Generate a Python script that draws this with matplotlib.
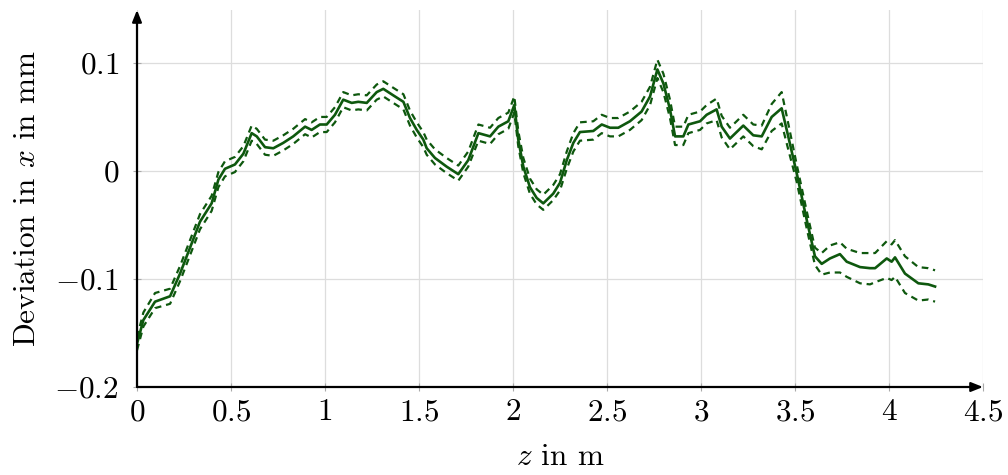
import numpy as np
import matplotlib
matplotlib.use('Agg')
import matplotlib.pyplot as plt

# position along z in m
z_pos = [0.000, 0.034, 0.096, 0.176, 0.229, 0.291, 0.335, 0.397, 0.433, 0.468,
         0.521, 0.566, 0.610, 0.637, 0.681, 0.725, 0.778, 0.831, 0.894, 0.929,
         0.973, 1.009, 1.053, 1.097, 1.142, 1.177, 1.222, 1.275, 1.310, 1.363,
         1.417, 1.452, 1.488, 1.523, 1.541, 1.585, 1.647, 1.709, 1.762, 1.816,
         1.878, 1.922, 1.975, 2.007, 2.028, 2.055, 2.090, 2.126, 2.161, 2.214,
         2.250, 2.286, 2.321, 2.356, 2.427, 2.472, 2.516, 2.560, 2.622, 2.684,
         2.729, 2.768, 2.800, 2.835, 2.862, 2.906, 2.933, 2.995, 3.030, 3.083,
         3.110, 3.154, 3.225, 3.278, 3.323, 3.376, 3.429, 3.464, 3.509, 3.562,
         3.606, 3.642, 3.686, 3.739, 3.775, 3.846, 3.899, 3.926, 3.988, 4.014,
         4.032, 4.085, 4.156, 4.209, 4.245]

# mean deviation in x (mm)
dev_mean = [-0.160, -0.138, -0.121, -0.116, -0.095, -0.067, -0.047, -0.030, -0.008, 0.002,
            0.006, 0.016, 0.035, 0.032, 0.022, 0.021, 0.026, 0.032, 0.041, 0.038,
            0.043, 0.043, 0.052, 0.066, 0.063, 0.064, 0.063, 0.073, 0.076, 0.070,
            0.064, 0.049, 0.038, 0.029, 0.021, 0.012, 0.004, -0.003, 0.010, 0.035,
            0.032, 0.041, 0.046, 0.061, 0.029, 0.004, -0.015, -0.025, -0.030, -0.021,
            -0.011, 0.010, 0.026, 0.036, 0.037, 0.043, 0.040, 0.040, 0.046, 0.055,
            0.069, 0.094, 0.081, 0.057, 0.032, 0.032, 0.043, 0.046, 0.052, 0.057,
            0.041, 0.030, 0.042, 0.033, 0.032, 0.050, 0.058, 0.032, -0.002, -0.045,
            -0.079, -0.086, -0.081, -0.077, -0.084, -0.089, -0.090, -0.090, -0.081, -0.084,
            -0.080, -0.095, -0.104, -0.105, -0.107]

# distance of the upper / lower dashed bound from the mean
off_upper = [0.006, 0.007, 0.008, 0.007, 0.007, 0.007, 0.007, 0.007, 0.007, 0.007,
             0.007, 0.007, 0.007, 0.007, 0.007, 0.007, 0.007, 0.007, 0.007, 0.007,
             0.007, 0.007, 0.007, 0.007, 0.007, 0.007, 0.007, 0.007, 0.007, 0.007,
             0.007, 0.007, 0.007, 0.007, 0.008, 0.008, 0.008, 0.008, 0.008, 0.008,
             0.008, 0.008, 0.008, 0.008, 0.008, 0.008, 0.008, 0.008, 0.008, 0.008,
             0.008, 0.008, 0.009, 0.009, 0.009, 0.009, 0.009, 0.009, 0.009, 0.009,
             0.009, 0.009, 0.009, 0.009, 0.009, 0.009, 0.009, 0.009, 0.009, 0.010,
             0.010, 0.010, 0.010, 0.010, 0.010, 0.012, 0.015, 0.012, 0.008, 0.008,
             0.008, 0.010, 0.012, 0.011, 0.012, 0.013, 0.014, 0.014, 0.016, 0.016,
             0.016, 0.016, 0.015, 0.015, 0.015]
off_lower = [0.006, 0.006, 0.006, 0.007, 0.007, 0.007, 0.007, 0.007, 0.007, 0.007,
             0.007, 0.007, 0.007, 0.007, 0.007, 0.007, 0.007, 0.007, 0.007, 0.007,
             0.007, 0.007, 0.007, 0.007, 0.007, 0.007, 0.007, 0.007, 0.007, 0.007,
             0.007, 0.007, 0.007, 0.007, 0.006, 0.006, 0.006, 0.006, 0.006, 0.007,
             0.007, 0.007, 0.007, 0.007, 0.006, 0.006, 0.006, 0.006, 0.006, 0.006,
             0.007, 0.008, 0.008, 0.008, 0.008, 0.008, 0.008, 0.008, 0.008, 0.008,
             0.008, 0.008, 0.008, 0.008, 0.008, 0.008, 0.008, 0.008, 0.008, 0.010,
             0.010, 0.010, 0.010, 0.010, 0.012, 0.013, 0.014, 0.012, 0.008, 0.008,
             0.008, 0.010, 0.013, 0.017, 0.014, 0.015, 0.015, 0.013, 0.018, 0.017,
             0.018, 0.018, 0.016, 0.014, 0.014]

x_ticks = [0, 0.5, 1, 1.5, 2, 2.5, 3, 3.5, 4, 4.5]
x_ticklabels = ['0', '0.5', '1', '1.5', '2', '2.5', '3', '3.5', '4', '4.5']
y_ticks = [-0.2, -0.1, 0, 0.1]
y_ticklabels = ['-0.2', '-0.1', '0', '0.1']


def main():
    plt.rcParams['font.family'] = 'serif'
    plt.rcParams['font.serif'] = ['cmr10']
    plt.rcParams['mathtext.fontset'] = 'cm'
    plt.rcParams['axes.formatter.use_mathtext'] = True

    z = np.array(z_pos)
    mean = np.array(dev_mean)
    upper = mean + np.array(off_upper)
    lower = mean - np.array(off_lower)

    fig = plt.figure(figsize=(10.08, 4.75), dpi=100)
    ax = fig.add_axes([137 / 1008, 1 - 387 / 475, (983 - 137) / 1008, (387 - 10) / 475])

    green = '#0e580e'
    ax.plot(z, mean, color=green, lw=1.9, solid_joinstyle='round', zorder=3)
    ax.plot(z, upper, color=green, lw=1.6, ls=(0, (3, 2.2)), zorder=3)
    ax.plot(z, lower, color=green, lw=1.6, ls=(0, (3, 2.2)), zorder=3)

    ax.set_xlim(0, 4.5)
    ax.set_ylim(-0.2, 0.149)
    ax.set_xticks(x_ticks)
    ax.set_xticklabels(['$%s$' % s for s in x_ticklabels])
    ax.set_yticks(y_ticks)
    ax.set_yticklabels(['$%s$' % s for s in y_ticklabels])
    ax.tick_params(axis='both', direction='inout', length=6, width=0.8, color='#aaaaaa',
                   labelsize=22.5, labelcolor='black')
    ax.tick_params(axis='x', pad=5)
    ax.tick_params(axis='y', pad=10)
    ax.grid(True, color='#dddddd', lw=0.9)
    ax.set_axisbelow(True)

    for side in ['top', 'right', 'left', 'bottom']:
        ax.spines[side].set_visible(False)
    # axis lines with arrow heads
    arrow = dict(arrowstyle='-|>,head_length=0.7,head_width=0.28', color='black', lw=1.6,
                 shrinkA=0, shrinkB=0)
    ax.annotate('', xy=(1.0, 0), xytext=(0, 0), xycoords='axes fraction', arrowprops=arrow)
    ax.annotate('', xy=(0, 1.0), xytext=(0, 0), xycoords='axes fraction', arrowprops=arrow)

    ax.set_xlabel('$z$ in m', fontsize=22.5, labelpad=12)
    ax.set_ylabel('Deviation in $x$ in mm', fontsize=22.5, labelpad=10)

    fig.savefig('out.png', dpi=100)


if __name__ == '__main__':
    main()
